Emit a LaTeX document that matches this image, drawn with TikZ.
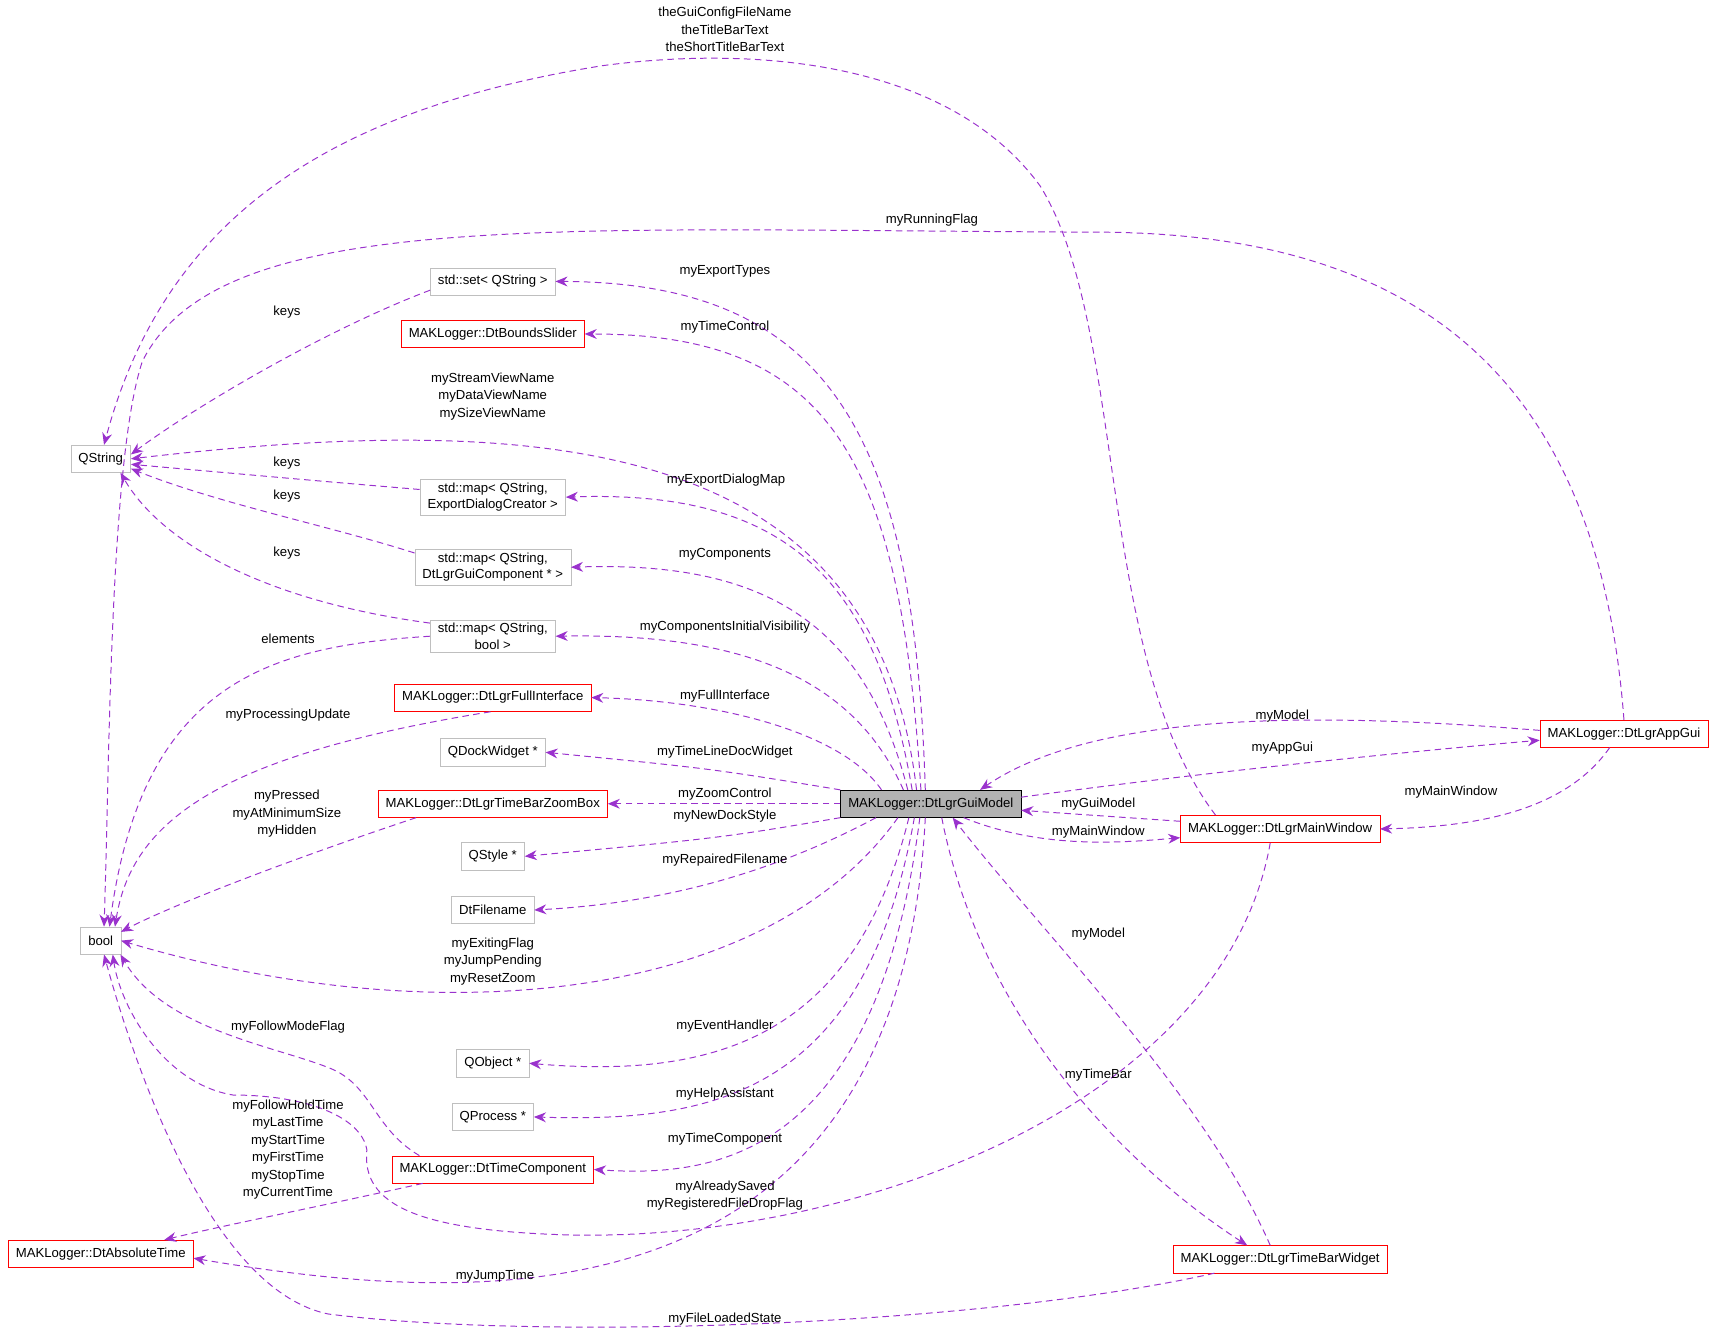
\documentclass[tikz,border=0pt]{standalone}
\usepackage{fontspec}
\setmainfont{Liberation Sans}
\usetikzlibrary{arrows.meta}
\definecolor{edgecol}{HTML}{9A32CD}
\definecolor{boxgray}{HTML}{BFBFBF}
\tikzset{
  cls/.style={draw=boxgray, fill=white, inner xsep=7pt, inner ysep=3pt, minimum height=25pt, align=center, font=\fontsize{12}{15}\selectfont},
  redcls/.style={cls, draw=red},
  main/.style={cls, draw=black, fill=gray!60},
  link/.style={densely dashed, dash pattern=on 6pt off 4pt, color=edgecol, line width=0.9pt, -{Stealth[length=11pt,width=9pt]}},
  lbl/.style={align=center, inner sep=0pt, font=\fontsize{12}{16}\selectfont}
}
\begin{document}
\begin{tikzpicture}[x=1pt, y=-1pt]
\useasboundingbox (0,0) rectangle (1568,1224);

% classes
\node[main] (model) at (850,734) {MAKLogger::DtLgrGuiModel};
\node[cls] (qstring) at (92,419) {QString};
\node[cls] (bool) at (92,859) {bool};
\node[redcls] (abstime) at (92,1145) {MAKLogger::DtAbsoluteTime};
\node[cls] (set) at (450,257) {std::set< QString >};
\node[redcls] (slider) at (450,305) {MAKLogger::DtBoundsSlider};
\node[cls] (dlgmap) at (450,454) {std::map< QString,\\ ExportDialogCreator >};
\node[cls] (compmap) at (450,518) {std::map< QString,\\ DtLgrGuiComponent * >};
\node[cls] (boolmap) at (450,581) {std::map< QString,\\ bool >};
\node[redcls] (full) at (450,637) {MAKLogger::DtLgrFullInterface};
\node[cls] (dock) at (450,687) {QDockWidget *};
\node[redcls] (zoombox) at (450,734) {MAKLogger::DtLgrTimeBarZoomBox};
\node[cls] (qstyle) at (450,782) {QStyle *};
\node[cls] (fname) at (450,831) {DtFilename};
\node[cls] (qobject) at (450,971) {QObject *};
\node[cls] (qprocess) at (450,1020) {QProcess *};
\node[redcls] (timecomp) at (450,1068) {MAKLogger::DtTimeComponent};
\node[redcls] (appgui) at (1483,670) {MAKLogger::DtLgrAppGui};
\node[redcls] (mainwin) at (1169,757) {MAKLogger::DtLgrMainWindow};
\node[redcls] (timebar) at (1169,1150) {MAKLogger::DtLgrTimeBarWidget};

% from the gui model
\draw[link] ([xshift=-5pt]model.north) .. controls (835,400) and (760,258) .. (set.east);
\draw[link] ([xshift=-9pt]model.north) .. controls (822,420) and (760,305) .. (slider.east);
\draw[link] ([xshift=-13pt]model.north) .. controls (800,400) and (500,375) .. (qstring.east);
\draw[link] ([xshift=-17pt]model.north) .. controls (800,530) and (720,447) .. (dlgmap.east);
\draw[link] ([xshift=-21pt]model.north) .. controls (790,570) and (700,512) .. (compmap.east);
\draw[link] ([xshift=-25pt]model.north) .. controls (780,620) and (680,578) .. (boolmap.east);
\draw[link] ([xshift=-45pt]model.north) .. controls (770,670) and (660,640) .. (full.east);
\draw[link] (model.north west) .. controls (650,702) .. (dock.east);
\draw[link] (model.west) -- (zoombox.east);
\draw[link] (model.south west) .. controls (660,765) .. (qstyle.east);
\draw[link] ([xshift=-50pt]model.south) .. controls (700,800) and (600,825) .. (fname.east);
\draw[link] ([xshift=-30pt]model.south) .. controls (700,915) and (400,945) .. (bool.east);
\draw[link] ([xshift=-20pt]model.south) .. controls (780,950) and (650,985) .. (qobject.east);
\draw[link] ([xshift=-15pt]model.south) .. controls (790,1000) and (650,1025) .. (qprocess.east);
\draw[link] ([xshift=-10pt]model.south) .. controls (800,1060) and (650,1075) .. (timecomp.east);
\draw[link] ([xshift=-5pt]model.south) .. controls (820,1225) and (420,1190) .. ([yshift=-4pt]abstime.east);
\draw[link] ([xshift=10pt]model.south) .. controls (900,950) and (1050,1080) .. ([xshift=-30pt]timebar.north);
\draw[link] ([yshift=6pt]model.east) .. controls (1100,705) and (1300,685) .. ([yshift=-6pt]appgui.west);
\draw[link] ([xshift=30pt]model.south) .. controls (950,775) and (1020,770) .. ([yshift=-8pt]mainwin.west);

% towards the gui model
\draw[link] ([yshift=3pt]appgui.west) .. controls (1200,650) and (1000,650) .. ([xshift=45pt]model.north);
\draw[link] ([yshift=7pt]mainwin.west) -- ([yshift=-6pt]model.east);
\draw[link] ([xshift=-9pt]timebar.north) .. controls (1100,1000) and (950,850) .. ([xshift=20pt]model.south);
\draw[link] ([xshift=-13pt]appgui.south) .. controls (1430,740) and (1350,755) .. (mainwin.east);

% long ones
\draw[link] ([xshift=-59pt]mainwin.north) .. controls (1000,600) and (1030,300) .. (950,170)
  .. controls (870,60) and (700,40) .. (550,60) .. controls (300,100) and (150,200) .. ([xshift=3pt]qstring.north);
\draw[link] (appgui.north) .. controls (1460,350) and (1300,212) .. (1000,212)
  .. controls (500,210) and (200,190) .. (130,330) .. controls (100,420) and (100,700) .. ([xshift=3pt]bool.north);
\draw[link] ([xshift=-9pt]mainwin.south) .. controls (1120,1000) and (800,1130) .. (530,1128)
  .. controls (380,1125) and (330,1100) .. (335,1050) .. controls (330,1020) and (280,1000) .. (213,1000)
  .. controls (150,990) and (110,920) .. ([xshift=11pt]bool.south);
\draw[link] ([xshift=-67pt]timecomp.north) .. controls (340,1030) and (340,990) .. (300,975)
  .. controls (250,955) and (150,940) .. ([xshift=18pt]bool.south);
\draw[link] ([xshift=-64pt]timecomp.south) .. controls (300,1100) and (200,1120) .. ([xshift=58pt]abstime.north);
\draw[link] ([xshift=-60pt]timebar.south) .. controls (900,1210) and (500,1225) .. (300,1200)
  .. controls (200,1180) and (130,1000) .. ([xshift=3pt]bool.south);

% left side
\draw[link] ([yshift=-8pt]set.west) .. controls (300,300) and (180,370) .. ([yshift=4pt]qstring.east);
\draw[link] ([yshift=7pt]dlgmap.west) .. controls (300,440) .. ([yshift=-5pt]qstring.east);
\draw[link] ([yshift=13pt]compmap.west) .. controls (300,480) and (200,460) .. ([yshift=-9pt]qstring.east);
\draw[link] ([yshift=12pt]boolmap.west) .. controls (250,550) and (150,500) .. ([xshift=18pt]qstring.south);
\draw[link] (boolmap.west) .. controls (250,590) and (130,620) .. ([xshift=8pt]bool.north);
\draw[link] ([xshift=-92pt,yshift=-13pt]full.east) .. controls (200,690) and (120,750) .. ([xshift=13pt]bool.north);
\draw[link] ([xshift=-70pt]zoombox.south) .. controls (250,790) and (150,830) .. ([yshift=8pt]bool.east);

% labels
\node[lbl] (l1) at (662,248) {myExportTypes};
\node[lbl] (l2) at (662,299) {myTimeControl};
\node[lbl] (l3) at (450,362) {myStreamViewName\\myDataViewName\\mySizeViewName};
\node[lbl] (l4) at (663,438) {myExportDialogMap};
\node[lbl] (l5) at (662,506) {myComponents};
\node[lbl] (l6) at (662,573) {myComponentsInitialVisibility};
\node[lbl] (l7) at (662,636) {myFullInterface};
\node[lbl] (l8) at (662,687) {myTimeLineDocWidget};
\node[lbl] (l9) at (662,725) {myZoomControl};
\node[lbl] (l10) at (662,745) {myNewDockStyle};
\node[lbl] (l11) at (662,785) {myRepairedFilename};
\node[lbl] (l12) at (450,878) {myExitingFlag\\myJumpPending\\myResetZoom};
\node[lbl] (l13) at (662,937) {myEventHandler};
\node[lbl] (l14) at (662,999) {myHelpAssistant};
\node[lbl] (l15) at (662,1040) {myTimeComponent};
\node[lbl] (l16) at (452,1165) {myJumpTime};
\node[lbl] (l17) at (1003,982) {myTimeBar};
\node[lbl] (l18) at (1171,654) {myModel};
\node[lbl] (l19) at (1171,683) {myAppGui};
\node[lbl] (l20) at (1003,734) {myGuiModel};
\node[lbl] (l21) at (1003,760) {myMainWindow};
\node[lbl] (l22) at (1325,723) {myMainWindow};
\node[lbl] (l23) at (1003,853) {myModel};
\node[lbl] (l24) at (262,285) {keys};
\node[lbl] (l25) at (262,423) {keys};
\node[lbl] (l26) at (262,453) {keys};
\node[lbl] (l27) at (262,505) {keys};
\node[lbl] (l28) at (263,583) {elements};
\node[lbl] (l29) at (263,653) {myProcessingUpdate};
\node[lbl] (l30) at (262,743) {myPressed\\myAtMinimumSize\\myHidden};
\node[lbl] (l31) at (263,938) {myFollowModeFlag};
\node[lbl] (l32) at (263,1050) {myFollowHoldTime\\myLastTime\\myStartTime\\myFirstTime\\myStopTime\\myCurrentTime};
\node[lbl] (l33) at (662,1092) {myAlreadySaved\\myRegisteredFileDropFlag};
\node[lbl] (l34) at (662,1205) {myFileLoadedState};
\node[lbl] (l35) at (851,201) {myRunningFlag};
\node[lbl] (l36) at (662,27) {theGuiConfigFileName\\theTitleBarText\\theShortTitleBarText};
\end{tikzpicture}
\end{document}
